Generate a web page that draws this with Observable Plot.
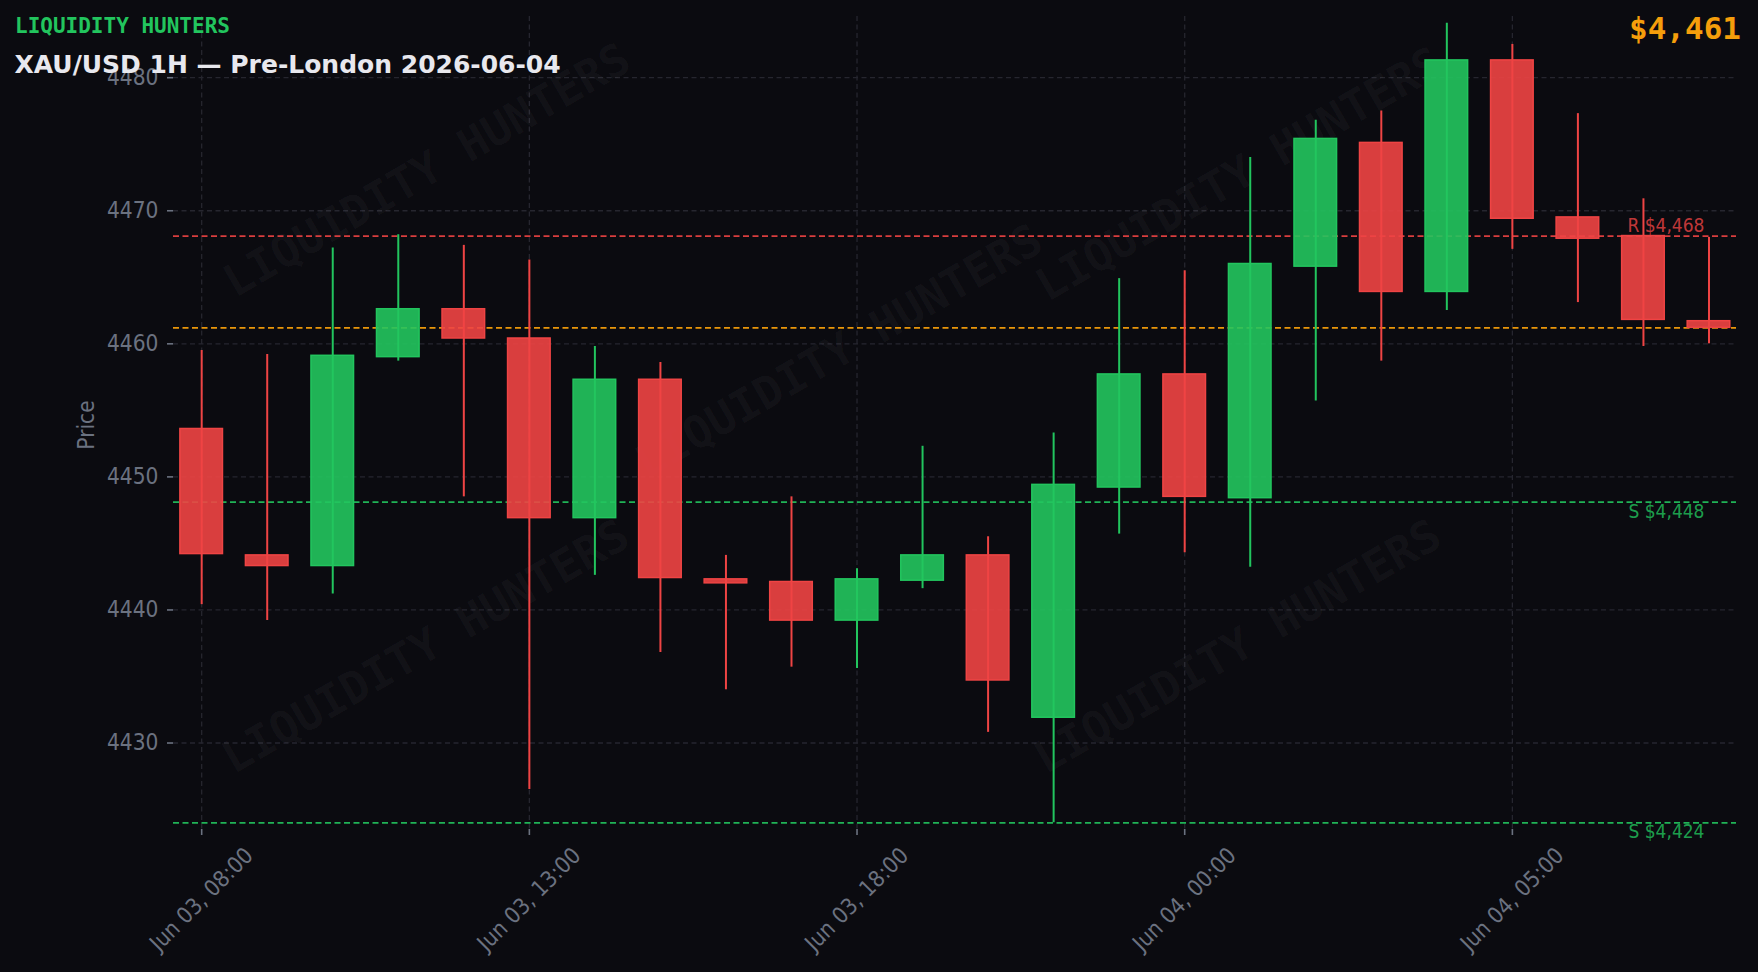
<!DOCTYPE html>
<html><head><meta charset="utf-8">
<script src="https://cdn.jsdelivr.net/npm/d3@7"></script>
<script src="https://cdn.jsdelivr.net/npm/@observablehq/plot@0.6"></script>
<style>
html,body{margin:0;padding:0;background:#0b0b10;}
#wrap{position:relative;width:1758px;height:972px;background:#0b0b10;overflow:hidden;}
#wrap svg{position:absolute;left:0;top:0;}
.t{position:absolute;white-space:nowrap;line-height:1;}
</style></head><body>
<div id="wrap"></div>
<script>
// ---- data ----
const times = ["2026-06-03T08:00","2026-06-03T09:00","2026-06-03T10:00","2026-06-03T11:00","2026-06-03T12:00","2026-06-03T13:00","2026-06-03T14:00","2026-06-03T15:00","2026-06-03T16:00","2026-06-03T17:00","2026-06-03T18:00","2026-06-03T19:00","2026-06-03T20:00","2026-06-03T22:00","2026-06-03T23:00","2026-06-04T00:00","2026-06-04T01:00","2026-06-04T02:00","2026-06-04T03:00","2026-06-04T04:00","2026-06-04T05:00","2026-06-04T06:00","2026-06-04T07:00","2026-06-04T08:00"];
const opens  = [4453.6,4444.1,4443.3,4459.0,4462.6,4460.4,4446.9,4457.3,4442.3,4442.1,4439.2,4442.2,4444.1,4431.9,4449.2,4457.7,4448.4,4465.8,4475.1,4463.9,4481.3,4469.5,4468.1,4461.7];
const highs  = [4459.5,4459.2,4467.2,4468.2,4467.4,4466.3,4459.8,4458.6,4444.1,4448.5,4443.1,4452.3,4445.5,4453.3,4464.9,4465.5,4474.0,4476.8,4477.5,4484.1,4482.5,4477.3,4470.9,4468.0];
const lows   = [4440.4,4439.2,4441.2,4458.7,4448.5,4426.5,4442.6,4436.8,4434.0,4435.7,4435.6,4441.6,4430.8,4424.0,4445.7,4444.3,4443.2,4455.7,4458.7,4462.5,4467.1,4463.1,4459.8,4460.0];
const closes = [4444.2,4443.3,4459.1,4462.6,4460.4,4446.9,4457.3,4442.4,4442.0,4439.2,4442.3,4444.1,4434.7,4449.4,4457.7,4448.5,4466.0,4475.4,4463.9,4481.3,4469.4,4467.9,4461.8,4461.2];
const resistance = [4468.1];
const supports = [4448.1, 4424.0];
const currentPrice = 4461.2;
const yTicks = [4430, 4440, 4450, 4460, 4470, 4480];
const xTickIndex = [0, 5, 10, 15, 20];
const brand = "LIQUIDITY HUNTERS";
const title = "XAU/USD 1H — Pre-London 2026-06-04";

// ---- build ----
const UP = "#22c55e", DOWN = "#ef4444", ORANGE = "#f59e0b", GRAY = "#6b7280";
const candles = times.map((t, i) => ({
  i, t, open: opens[i], high: highs[i], low: lows[i], close: closes[i],
  col: closes[i] >= opens[i] ? UP : DOWN
}));
const parse = d3.utcParse("%Y-%m-%dT%H:%M");
const fmt = d3.utcFormat("%b %d, %H:%M");
const fmtUsd = v => "$" + d3.format(",.0f")(v);
const levels = [
  ...resistance.map(v => ({v, kind: "R", col: DOWN})),
  ...supports.map(v => ({v, kind: "S", col: UP}))
];
const watermarks = [
  {x: 3.44, y: 4473.0}, {x: 15.84, y: 4472.7}, {x: 9.73, y: 4459.4},
  {x: 3.42, y: 4437.2}, {x: 15.81, y: 4437.2}
];
const COND = "'DejaVu Sans Condensed', 'DejaVu Sans', sans-serif";
const XMAX = 23.42;

const chart = Plot.plot({
  width: 1758, height: 972,
  marginLeft: 173, marginRight: 22, marginTop: 16, marginBottom: 143,
  style: {background: "transparent", fontFamily: COND, color: GRAY},
  x: {type: "linear", domain: [-0.43, XMAX], axis: null},
  y: {domain: [4423.5, 4484.6], axis: null},
  color: {type: "identity"},
  marks: [
    Plot.gridY(yTicks, {stroke: "#26262f", strokeOpacity: 1, strokeWidth: 1.3, strokeDasharray: "5,3.5"}),
    Plot.gridX(xTickIndex, {stroke: "#26262f", strokeOpacity: 1, strokeWidth: 1.3, strokeDasharray: "5,3.5"}),
    Plot.text(watermarks, {x: "x", y: "y", text: () => brand, rotate: -30,
      fontFamily: "'DejaVu Sans Mono', monospace", fontWeight: "bold", fontSize: 45,
      fill: "#ffffff", fillOpacity: 0.04}),
    Plot.axisY({ticks: yTicks, tickSize: 6, tickPadding: 9, fontSize: 22.5, color: GRAY, strokeWidth: 1.6, label: null, tickFormat: d3.format("d")}),
    Plot.axisX({ticks: xTickIndex, tickSize: 6, tickFormat: () => "", color: GRAY, strokeWidth: 1.6, label: null}),
    Plot.text(xTickIndex, {x: d => d, text: d => fmt(parse(times[d])), frameAnchor: "bottom", dx: 5, dy: 75,
      rotate: -45, textAnchor: "middle", fontSize: 22.5, fill: GRAY}),
    Plot.text(["Price"], {frameAnchor: "left", textAnchor: "middle", dx: -87, dy: 2, rotate: -90, text: d => d, fontSize: 22.5, fill: GRAY}),
    Plot.ruleY(levels, {y: "v", stroke: "col", strokeWidth: 1.8, strokeDasharray: "6,3.5", strokeOpacity: 0.9}),
    Plot.ruleY([currentPrice], {y: d => d, stroke: ORANGE, strokeWidth: 1.8, strokeDasharray: "6,3.5", strokeOpacity: 0.95}),
    Plot.text(levels.filter(d => d.kind === "R"), {x: () => XMAX, y: "v", text: d => d.kind + " " + fmtUsd(d.v), textAnchor: "end", dx: -32,
      dy: -10, fill: "col", fillOpacity: 0.8, fontSize: 19}),
    Plot.text(levels.filter(d => d.kind === "S"), {x: () => XMAX, y: "v", text: d => d.kind + " " + fmtUsd(d.v), textAnchor: "end", dx: -32,
      dy: 9.5, fill: "col", fillOpacity: 0.8, fontSize: 19}),
    Plot.ruleX(candles, {x: "i", y1: "low", y2: "high", stroke: "col", strokeWidth: 2}),
    Plot.rect(candles, {x1: d => d.i - 0.325, x2: d => d.i + 0.325, y1: "open", y2: "close",
      fill: "col", fillOpacity: 0.9, stroke: "col", strokeWidth: 1.5, inset: 0})
  ]
});

const wrap = document.getElementById("wrap");
wrap.appendChild(chart);
function addText(txt, css) {
  const d = document.createElement("div");
  d.className = "t"; d.textContent = txt;
  Object.assign(d.style, css);
  wrap.appendChild(d);
}
addText(brand, {left: "15px", top: "16px", fontFamily: "'DejaVu Sans Mono', monospace", fontWeight: "bold", fontSize: "21px", color: UP});
addText(title, {left: "14.5px", top: "52px", fontFamily: "'DejaVu Sans', sans-serif", fontWeight: "bold", fontSize: "25px", color: "#e8e8ee"});
addText(fmtUsd(currentPrice), {right: "17px", top: "13px", fontFamily: "'DejaVu Sans Mono', monospace", fontWeight: "bold", fontSize: "31px", color: ORANGE});
</script>
</body></html>
